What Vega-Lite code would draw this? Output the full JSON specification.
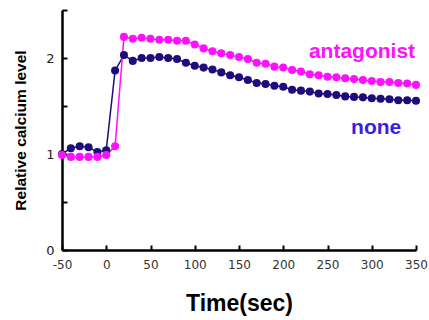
{
  "$schema": "https://vega.github.io/schema/vega-lite/v6.json",
  "autosize": "none",
  "width": 354,
  "height": 240,
  "padding": {"left": 62, "top": 10, "right": 13, "bottom": 70},
  "background": "white",
  "config": {"view": {"stroke": null}},
  "datasets": {
    "series": [
      {"t": -50, "v": 1.0, "s": "none"}, {"t": -40, "v": 1.06, "s": "none"}, {"t": -30, "v": 1.08, "s": "none"}, {"t": -20, "v": 1.07, "s": "none"}, {"t": -10, "v": 1.02, "s": "none"}, {"t": 0, "v": 1.04, "s": "none"}, {"t": 10, "v": 1.87, "s": "none"}, {"t": 20, "v": 2.03, "s": "none"}, {"t": 30, "v": 1.97, "s": "none"}, {"t": 40, "v": 2.0, "s": "none"}, {"t": 50, "v": 2.0, "s": "none"}, {"t": 60, "v": 2.01, "s": "none"}, {"t": 70, "v": 2.0, "s": "none"}, {"t": 80, "v": 1.99, "s": "none"}, {"t": 90, "v": 1.95, "s": "none"}, {"t": 100, "v": 1.92, "s": "none"}, {"t": 110, "v": 1.9, "s": "none"}, {"t": 120, "v": 1.88, "s": "none"}, {"t": 130, "v": 1.85, "s": "none"}, {"t": 140, "v": 1.82, "s": "none"}, {"t": 150, "v": 1.8, "s": "none"}, {"t": 160, "v": 1.77, "s": "none"}, {"t": 170, "v": 1.74, "s": "none"}, {"t": 180, "v": 1.73, "s": "none"}, {"t": 190, "v": 1.71, "s": "none"}, {"t": 200, "v": 1.7, "s": "none"}, {"t": 210, "v": 1.67, "s": "none"}, {"t": 220, "v": 1.66, "s": "none"}, {"t": 230, "v": 1.65, "s": "none"}, {"t": 240, "v": 1.63, "s": "none"}, {"t": 250, "v": 1.625, "s": "none"}, {"t": 260, "v": 1.615, "s": "none"}, {"t": 270, "v": 1.6, "s": "none"}, {"t": 280, "v": 1.595, "s": "none"}, {"t": 290, "v": 1.59, "s": "none"}, {"t": 300, "v": 1.58, "s": "none"}, {"t": 310, "v": 1.575, "s": "none"}, {"t": 320, "v": 1.57, "s": "none"}, {"t": 330, "v": 1.56, "s": "none"}, {"t": 340, "v": 1.56, "s": "none"}, {"t": 350, "v": 1.555, "s": "none"},
      {"t": -50, "v": 0.99, "s": "antagonist"}, {"t": -40, "v": 0.97, "s": "antagonist"}, {"t": -30, "v": 0.97, "s": "antagonist"}, {"t": -20, "v": 0.97, "s": "antagonist"}, {"t": -10, "v": 0.97, "s": "antagonist"}, {"t": 0, "v": 0.99, "s": "antagonist"}, {"t": 10, "v": 1.08, "s": "antagonist"}, {"t": 20, "v": 2.22, "s": "antagonist"}, {"t": 30, "v": 2.2, "s": "antagonist"}, {"t": 40, "v": 2.21, "s": "antagonist"}, {"t": 50, "v": 2.2, "s": "antagonist"}, {"t": 60, "v": 2.19, "s": "antagonist"}, {"t": 70, "v": 2.19, "s": "antagonist"}, {"t": 80, "v": 2.18, "s": "antagonist"}, {"t": 90, "v": 2.18, "s": "antagonist"}, {"t": 100, "v": 2.14, "s": "antagonist"}, {"t": 110, "v": 2.1, "s": "antagonist"}, {"t": 120, "v": 2.07, "s": "antagonist"}, {"t": 130, "v": 2.05, "s": "antagonist"}, {"t": 140, "v": 2.03, "s": "antagonist"}, {"t": 150, "v": 2.01, "s": "antagonist"}, {"t": 160, "v": 1.99, "s": "antagonist"}, {"t": 170, "v": 1.95, "s": "antagonist"}, {"t": 180, "v": 1.94, "s": "antagonist"}, {"t": 190, "v": 1.91, "s": "antagonist"}, {"t": 200, "v": 1.9, "s": "antagonist"}, {"t": 210, "v": 1.875, "s": "antagonist"}, {"t": 220, "v": 1.86, "s": "antagonist"}, {"t": 230, "v": 1.83, "s": "antagonist"}, {"t": 240, "v": 1.82, "s": "antagonist"}, {"t": 250, "v": 1.805, "s": "antagonist"}, {"t": 260, "v": 1.8, "s": "antagonist"}, {"t": 270, "v": 1.79, "s": "antagonist"}, {"t": 280, "v": 1.78, "s": "antagonist"}, {"t": 290, "v": 1.77, "s": "antagonist"}, {"t": 300, "v": 1.76, "s": "antagonist"}, {"t": 310, "v": 1.75, "s": "antagonist"}, {"t": 320, "v": 1.75, "s": "antagonist"}, {"t": 330, "v": 1.74, "s": "antagonist"}, {"t": 340, "v": 1.735, "s": "antagonist"}, {"t": 350, "v": 1.72, "s": "antagonist"}
    ],
    "labels": [
      {"t": 289, "v": 2.06, "label": "antagonist", "s": "antagonist"},
      {"t": 305, "v": 1.27, "label": "none", "s": "none"}
    ]
  },
  "layer": [
    {
      "data": {"name": "series"},
      "mark": {"type": "line", "strokeWidth": 1.5, "point": {"filled": true, "size": 65, "opacity": 1}},
      "encoding": {
        "x": {
          "field": "t", "type": "quantitative",
          "scale": {"domain": [-50, 350], "nice": false, "zero": false},
          "axis": {
            "values": [-50, 0, 50, 100, 150, 200, 250, 300, 350],
            "labelExpr": "toString(datum.value)",
            "title": "Time(sec)", "titleFont": "Liberation Sans", "titleFontSize": 23, "titleFontWeight": "bold", "titleColor": "black", "titlePadding": 22,
            "labelFont": "DejaVu Sans", "labelFontSize": 12, "labelColor": "#333", "labelPadding": 14,
            "tickSize": -5, "tickWidth": 2, "tickColor": "black", "domainColor": "black", "domainWidth": 2.5, "grid": false, "labelFlush": false
          }
        },
        "y": {
          "field": "v", "type": "quantitative",
          "scale": {"domain": [0, 2.5], "nice": false},
          "axis": {
            "values": [0, 0.5, 1, 1.5, 2, 2.5],
            "labelExpr": "datum.value % 1 === 0 ? toString(datum.value) : ''",
            "title": "Relative calcium level", "titleFont": "Liberation Sans", "titleFontSize": 15.5, "titleFontWeight": "bold", "titleColor": "black", "titlePadding": 17,
            "labelFont": "DejaVu Sans", "labelFontSize": 13, "labelColor": "#222", "labelPadding": 13,
            "tickSize": -5, "tickWidth": 2, "tickColor": "black", "domainColor": "black", "domainWidth": 2.5, "grid": false
          }
        },
        "color": {
          "field": "s", "type": "nominal",
          "scale": {"domain": ["none", "antagonist"], "range": ["#1e0c7c", "#ff10ff"]},
          "legend": null
        }
      }
    },
    {
      "data": {"name": "labels"},
      "mark": {"type": "text", "font": "Liberation Sans", "fontSize": 21, "fontWeight": "bold", "align": "center", "baseline": "middle"},
      "encoding": {
        "x": {"field": "t", "type": "quantitative"},
        "y": {"field": "v", "type": "quantitative"},
        "text": {"field": "label"},
        "color": {
          "field": "s", "type": "nominal",
          "scale": {"domain": ["none", "antagonist"], "range": ["#3a1ee6", "#ff10ff"]},
          "legend": null
        }
      }
    }
  ],
  "resolve": {"scale": {"color": "independent"}}
}
